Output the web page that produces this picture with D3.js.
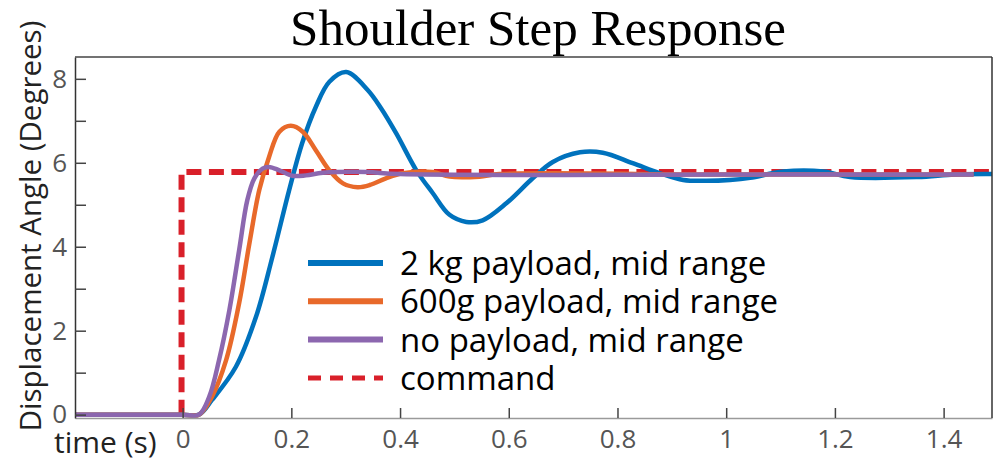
<!DOCTYPE html>
<html>
<head>
<meta charset="utf-8">
<script src="https://cdn.jsdelivr.net/npm/d3@7"></script>
<style>
  body { margin: 0; background: #fff; }
  svg { display: block; }
</style>
</head>
<body>
<div id="chart"></div>
<script>
// time (s), angle (deg)
const blue2kg = [
  [-0.198, 0], [-0.1, 0], [0, 0], [0.030, 0], [0.054, 0.35], [0.098, 1.14], [0.135, 2.33],
  [0.165, 3.75], [0.196, 5.35], [0.220, 6.47], [0.245, 7.33], [0.270, 7.93], [0.301, 8.16],
  [0.340, 7.74], [0.365, 7.30], [0.393, 6.70], [0.430, 5.82], [0.460, 5.28],
  [0.491, 4.76], [0.522, 4.59], [0.552, 4.63], [0.596, 5.04], [0.644, 5.63],
  [0.681, 6.02], [0.731, 6.25], [0.773, 6.24], [0.828, 5.99], [0.878, 5.75],
  [0.921, 5.59], [0.964, 5.57], [1.007, 5.59], [1.044, 5.64], [1.105, 5.79],
  [1.179, 5.79], [1.228, 5.66], [1.352, 5.66], [1.420, 5.72], [1.489, 5.73]
];
const orange600g = [
  [-0.198, 0], [-0.1, 0], [0, 0], [0.030, 0], [0.054, 0.43], [0.080, 1.30], [0.104, 2.66],
  [0.123, 4.09], [0.141, 5.35], [0.159, 6.14], [0.178, 6.74], [0.199, 6.88], [0.221, 6.74],
  [0.245, 6.30], [0.270, 5.82], [0.295, 5.51], [0.322, 5.42], [0.344, 5.47],
  [0.374, 5.63], [0.405, 5.75], [0.460, 5.78], [0.491, 5.67], [0.546, 5.67],
  [0.583, 5.73], [1.0, 5.72], [1.455, 5.72]
];
const purpleNone = [
  [-0.198, 0], [-0.1, 0], [0, 0], [0.030, 0], [0.049, 0.43], [0.067, 1.30], [0.086, 2.49],
  [0.104, 3.92], [0.119, 5.11], [0.132, 5.63], [0.147, 5.86], [0.159, 5.90], [0.178, 5.82],
  [0.202, 5.69], [0.227, 5.70], [0.258, 5.76], [0.338, 5.78], [0.399, 5.73],
  [1.0, 5.72], [1.455, 5.72]
];
const command = [[-0.002, 0], [-0.002, 5.78], [1.489, 5.78]];

const xTicks = [0, 0.2, 0.4, 0.6, 0.8, 1, 1.2, 1.4];
const yTicks = [0, 1, 2, 3, 4, 5, 6, 7, 8];
const yLabels = [0, 2, 4, 6, 8];

const legendNames = ["2 kg payload, mid range", "600g payload, mid range", "no payload, mid range", "command"];
const colors = ["#0072bd", "#e8692a", "#8c67af", "#d9202a"];

const width = 994, height = 464;
const mLeft = 75, mRight = 992, mTop = 57, mBottom = 418;

const svg = d3.select("#chart").append("svg")
  .attr("width", width)
  .attr("height", height);

const x = d3.scaleLinear().domain([-0.198, 1.489]).range([mLeft, mRight]);
const y = d3.scaleLinear().domain([-0.08, 8.52]).range([mBottom, mTop]);

svg.append("defs").append("clipPath").attr("id", "plot")
  .append("rect").attr("x", mLeft).attr("y", mTop)
  .attr("width", mRight - mLeft).attr("height", mBottom - mTop);

// title
svg.append("text")
  .attr("x", 538).attr("y", 45)
  .attr("text-anchor", "middle")
  .style("font-family", "'Liberation Serif', 'Times New Roman', serif")
  .style("font-size", "51px")
  .style("fill", "#000")
  .text("Shoulder Step Response");

// lines
const line = d3.line()
  .x(d => x(d[0]))
  .y(d => y(d[1]))
  .curve(d3.curveCatmullRom.alpha(0.5));

const g = svg.append("g").attr("clip-path", "url(#plot)");

g.append("path")
  .datum(command)
  .attr("fill", "none")
  .attr("stroke", colors[3])
  .attr("stroke-width", 6)
  .attr("stroke-dasharray", "15,7.5")
  .attr("d", d3.line().x(d => x(d[0])).y(d => y(d[1])));

[blue2kg, orange600g, purpleNone].forEach((s, i) => {
  g.append("path")
    .datum(s)
    .attr("fill", "none")
    .attr("stroke", colors[i])
    .attr("stroke-width", 4.5)
    .attr("stroke-linejoin", "round")
    .attr("d", line);
});

// axes box
const xAxis = svg.append("g")
  .attr("transform", `translate(0,${mBottom})`)
  .call(d3.axisBottom(x).tickValues(xTicks).tickSizeInner(-10).tickSizeOuter(0)
    .tickPadding(12).tickFormat(d3.format("")));
xAxis.select(".domain").attr("stroke", "#9a9a9a").attr("stroke-width", 1.5);
xAxis.selectAll(".tick line").attr("stroke", "#444").attr("stroke-width", 1.5);
xAxis.selectAll(".tick text")
  .style("font-family", "'Open Sans', sans-serif")
  .style("font-size", "26px")
  .style("fill", "#555");

const yAxis = svg.append("g")
  .attr("transform", `translate(${mLeft},0)`)
  .call(d3.axisLeft(y).tickValues(yTicks).tickSizeInner(-11).tickSizeOuter(0)
    .tickPadding(8).tickFormat(d => yLabels.includes(d) ? d : ""));
yAxis.select(".domain").attr("stroke", "#333").attr("stroke-width", 1.5);
yAxis.selectAll(".tick line").attr("stroke", "#444").attr("stroke-width", 1.5);
yAxis.selectAll(".tick text")
  .style("font-family", "'Open Sans', sans-serif")
  .style("font-size", "26px")
  .style("fill", "#555");

svg.append("line")
  .attr("x1", mLeft).attr("x2", mRight).attr("y1", mTop).attr("y2", mTop)
  .attr("stroke", "#444").attr("stroke-width", 1.5);
svg.append("line")
  .attr("x1", mRight).attr("x2", mRight).attr("y1", mTop).attr("y2", mBottom)
  .attr("stroke", "#333").attr("stroke-width", 1.5);

// axis labels
svg.append("text")
  .attr("x", 54).attr("y", 453)
  .style("font-family", "'Open Sans', sans-serif")
  .style("font-size", "30px")
  .style("fill", "#222")
  .text("time (s)");

svg.append("text")
  .attr("transform", "translate(41,226) rotate(-90)")
  .attr("text-anchor", "middle")
  .style("font-family", "'Open Sans', sans-serif")
  .style("font-size", "29.5px")
  .style("fill", "#222")
  .text("Displacement Angle (Degrees)");

// legend
const legend = svg.append("g").attr("transform", "translate(308,263)");
legendNames.forEach((name, i) => {
  const row = legend.append("g").attr("transform", `translate(0,${i * 38.3})`);
  row.append("line")
    .attr("x1", 0).attr("x2", 75)
    .attr("stroke", colors[i])
    .attr("stroke-width", i === 3 ? 5 : 6)
    .attr("stroke-dasharray", i === 3 ? "13,9" : null);
  row.append("text")
    .attr("x", 92).attr("y", 12)
    .style("font-family", "'Open Sans', sans-serif")
    .style("font-size", "33px")
    .style("fill", "#000")
    .text(name);
});
</script>
</body>
</html>
